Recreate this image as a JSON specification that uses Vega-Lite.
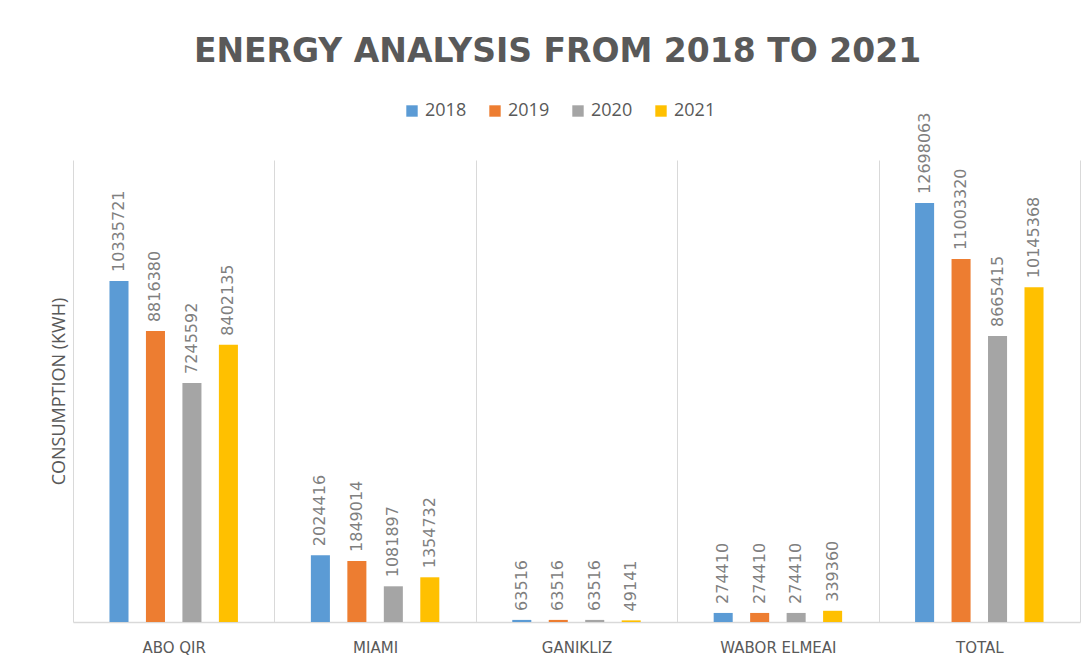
{
  "$schema": "https://vega.github.io/schema/vega-lite/v6.json",
  "autosize": "none",
  "width": 1007,
  "height": 462,
  "padding": {"left": 73, "top": 160, "right": 8, "bottom": 49},
  "background": "white",
  "title": {
    "text": "ENERGY ANALYSIS FROM 2018 TO 2021",
    "fontSize": 33,
    "fontWeight": "bold",
    "font": "DejaVu Sans",
    "color": "#595959",
    "anchor": "middle",
    "offset": 33,
    "dx": -19
  },
  "data": {
    "values": [
      {"site": "ABO QIR", "year": "2018", "kwh": 10335721},
      {"site": "ABO QIR", "year": "2019", "kwh": 8816380},
      {"site": "ABO QIR", "year": "2020", "kwh": 7245592},
      {"site": "ABO QIR", "year": "2021", "kwh": 8402135},
      {"site": "MIAMI", "year": "2018", "kwh": 2024416},
      {"site": "MIAMI", "year": "2019", "kwh": 1849014},
      {"site": "MIAMI", "year": "2020", "kwh": 1081897},
      {"site": "MIAMI", "year": "2021", "kwh": 1354732},
      {"site": "GANIKLIZ", "year": "2018", "kwh": 63516},
      {"site": "GANIKLIZ", "year": "2019", "kwh": 63516},
      {"site": "GANIKLIZ", "year": "2020", "kwh": 63516},
      {"site": "GANIKLIZ", "year": "2021", "kwh": 49141},
      {"site": "WABOR ELMEAI", "year": "2018", "kwh": 274410},
      {"site": "WABOR ELMEAI", "year": "2019", "kwh": 274410},
      {"site": "WABOR ELMEAI", "year": "2020", "kwh": 274410},
      {"site": "WABOR ELMEAI", "year": "2021", "kwh": 339360},
      {"site": "TOTAL", "year": "2018", "kwh": 12698063},
      {"site": "TOTAL", "year": "2019", "kwh": 11003320},
      {"site": "TOTAL", "year": "2020", "kwh": 8665415},
      {"site": "TOTAL", "year": "2021", "kwh": 10145368}
    ]
  },
  "encoding": {
    "x": {
      "field": "site",
      "type": "nominal",
      "sort": null,
      "scale": {"paddingInner": 0, "paddingOuter": 0},
      "axis": {
        "title": null,
        "labelAngle": 0,
        "grid": true,
        "tickBand": "extent",
        "gridColor": "#d9d9d9",
        "gridWidth": 1,
        "ticks": false,
        "domainColor": "#d9d9d9",
        "domainWidth": 1.5,
        "labelFontSize": 15,
        "labelFont": "DejaVu Sans",
        "labelColor": "#595959",
        "labelPadding": 18
      }
    },
    "xOffset": {
      "field": "year",
      "type": "nominal",
      "scale": {"paddingInner": 0.478, "paddingOuter": 1.152}
    },
    "y": {
      "field": "kwh",
      "type": "quantitative",
      "scale": {"domain": [0, 14000000], "nice": false},
      "axis": {
        "title": "CONSUMPTION (KWH)",
        "titleFontSize": 18,
        "titleFont": "Open Sans",
        "titleFontWeight": "normal",
        "titleColor": "#595959",
        "titlePadding": 5,
        "labels": false,
        "ticks": false,
        "domain": false,
        "grid": false
      }
    }
  },
  "layer": [
    {
      "mark": {"type": "bar"},
      "encoding": {
        "color": {
          "field": "year",
          "type": "nominal",
          "scale": {
            "domain": ["2018", "2019", "2020", "2021"],
            "range": ["#5B9BD5", "#ED7D31", "#A5A5A5", "#FFC000"]
          },
          "legend": {
            "title": null,
            "orient": "none",
            "direction": "horizontal",
            "legendX": 330,
            "legendY": -58,
            "symbolType": "square",
            "symbolSize": 130,
            "symbolStrokeWidth": 0,
            "labelFontSize": 18,
            "labelFont": "Open Sans",
            "labelColor": "#595959",
            "labelOffset": 4,
            "columnPadding": 19
          }
        }
      }
    },
    {
      "mark": {
        "type": "text",
        "angle": 270,
        "align": "left",
        "baseline": "middle",
        "dx": 9,
        "fontSize": 16,
        "font": "DejaVu Sans",
        "color": "#7f7f7f"
      },
      "encoding": {
        "text": {"field": "kwh", "type": "quantitative", "format": "d"}
      }
    }
  ],
  "config": {"view": {"stroke": null}}
}
